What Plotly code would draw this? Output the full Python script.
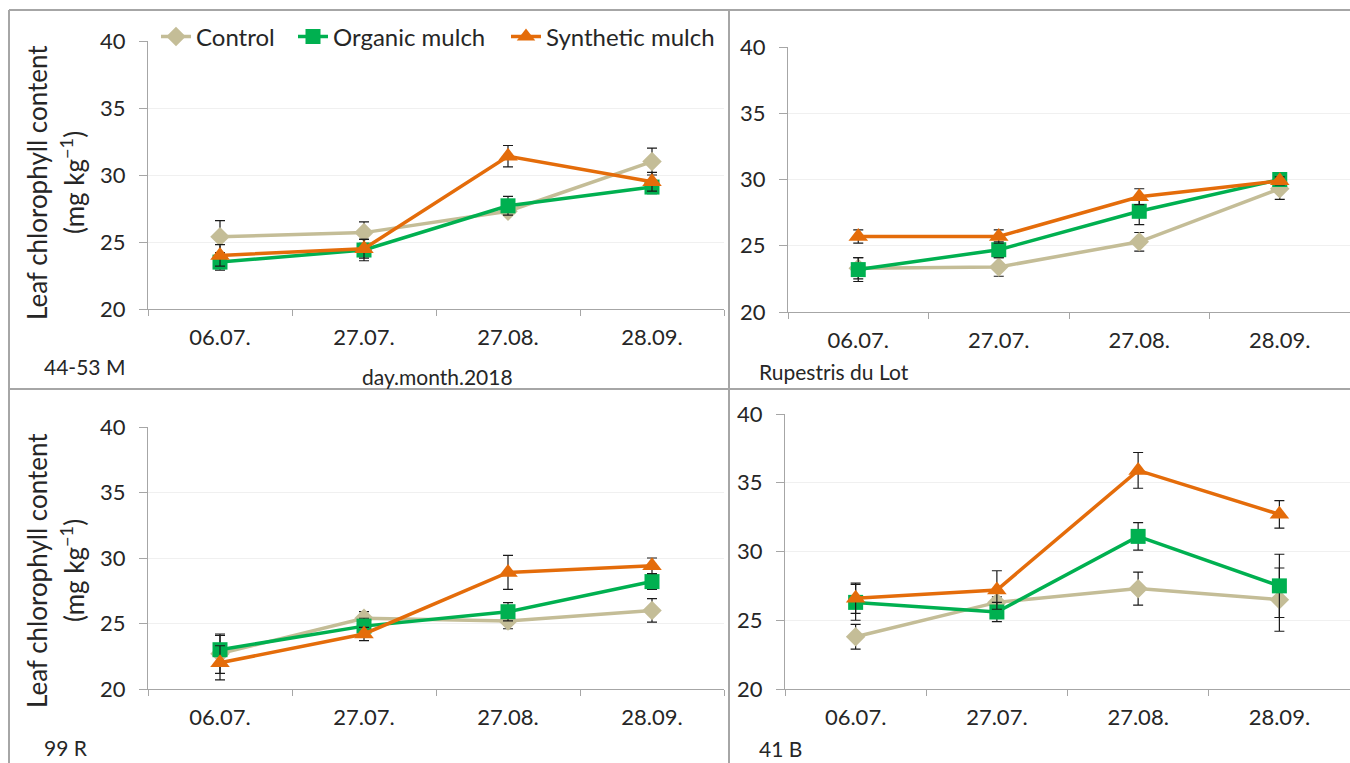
import plotly.graph_objects as go

W, H = 1350, 763

dates = ["06.07.", "27.07.", "27.08.", "28.09."]
series_names = ["Control", "Organic mulch", "Synthetic mulch"]
panel_labels = ["44-53 M", "Rupestris du Lot", "99 R", "41 B"]

# 44-53 M
m4453_control = [25.4, 25.7, 27.3, 31.0]
m4453_control_err = [1.2, 0.8, 0.3, 1.0]
m4453_organic = [23.5, 24.4, 27.7, 29.1]
m4453_organic_err = [0.6, 0.8, 0.7, 0.5]
m4453_synthetic = [24.0, 24.5, 31.4, 29.5]
m4453_synthetic_err = [0.8, 0.7, 0.8, 0.7]

# Rupestris du Lot
rup_control = [23.3, 23.4, 25.3, 29.3]
rup_control_err = [0.8, 0.7, 0.7, 0.8]
rup_organic = [23.2, 24.7, 27.6, 30.0]
rup_organic_err = [0.9, 0.6, 1.0, 0.3]
rup_synthetic = [25.7, 25.7, 28.7, 29.9]
rup_synthetic_err = [0.5, 0.5, 0.6, 0.3]

# 99 R
r99_control = [22.7, 25.4, 25.2, 26.0]
r99_control_err = [1.5, 0.5, 0.6, 0.9]
r99_organic = [23.0, 24.8, 25.9, 28.2]
r99_organic_err = [1.1, 0.6, 0.7, 0.6]
r99_synthetic = [22.0, 24.2, 28.9, 29.4]
r99_synthetic_err = [1.3, 0.5, 1.3, 0.6]

# 41 B
b41_control = [23.8, 26.3, 27.3, 26.5]
b41_control_err = [0.9, 0.4, 1.2, 2.3]
b41_organic = [26.3, 25.6, 31.1, 27.5]
b41_organic_err = [1.3, 0.7, 1.0, 2.3]
b41_synthetic = [26.6, 27.2, 35.9, 32.7]
b41_synthetic_err = [1.1, 1.4, 1.3, 1.0]

y_ticks = [20, 25, 30, 35, 40]

panels = [
    [(m4453_control, m4453_control_err), (m4453_organic, m4453_organic_err), (m4453_synthetic, m4453_synthetic_err)],
    [(rup_control, rup_control_err), (rup_organic, rup_organic_err), (rup_synthetic, rup_synthetic_err)],
    [(r99_control, r99_control_err), (r99_organic, r99_organic_err), (r99_synthetic, r99_synthetic_err)],
    [(b41_control, b41_control_err), (b41_organic, b41_organic_err), (b41_synthetic, b41_synthetic_err)],
]

colors = ["#C4BD97", "#00B050", "#E46C0A"]
symbols = ["diamond", "square", "triangle-up"]
msizes = [15, 15, 17]
legend_ids = ["legend", "legend2", "legend3"]
legend_x = [156, 293, 506]   # pixel left of each legend entry
FONT = "Lato"
TXT = "#262626"

# plot areas in pixels: (x0, x1, ytop, ybottom)
areas = [(148, 724, 41, 309), (788, 1350, 47, 312), (148, 724, 427, 689), (785, 1350, 414, 689)]

fig = go.Figure()
for p, data in enumerate(panels):
    ax = "" if p == 0 else str(p + 1)
    for s, (vals, errs) in enumerate(data):
        fig.add_trace(go.Scatter(
            x=dates, y=vals, name=series_names[s],
            mode="lines+markers",
            line=dict(color=colors[s], width=3.5),
            marker=dict(symbol=symbols[s], size=msizes[s], color=colors[s]),
            error_y=dict(type="data", array=errs, visible=True, color="#1a1a1a", thickness=1.2, width=5),
            xaxis="x" + ax, yaxis="y" + ax,
            showlegend=(p == 0), legend=legend_ids[s],
        ))
    x0, x1, yt, yb = areas[p]
    xa = dict(domain=[x0 / W, min(x1 / W, 1)], type="category", range=[-0.5, 3.5],
              showline=True, linecolor="#A6A6A6", linewidth=1, tickson="boundaries",
              ticks="outside", ticklen=6, tickcolor="#A6A6A6", showgrid=False, automargin=False,
              ticklabelstandoff=9,
              tickfont=dict(family=FONT, size=22, color=TXT), anchor="y" + ax, zeroline=False)
    ya = dict(domain=[1 - yb / H, 1 - yt / H], range=[20, 40], tickvals=y_ticks,
              showline=True, linecolor="#A6A6A6", linewidth=1, ticks="outside", ticklen=8,
              tickcolor="#A6A6A6", showgrid=True, gridcolor="#F0F0F0", gridwidth=1, automargin=False,
              ticklabelstandoff=9,
              tickfont=dict(family=FONT, size=22, color=TXT), anchor="x" + ax, zeroline=False)
    fig.update_layout(**{"xaxis" + ax: xa, "yaxis" + ax: ya})

annotations = []
# y-axis titles (left panels)
for cy in [183, 571]:
    annotations.append(dict(x=37 / W, y=1 - cy / H, xref="paper", yref="paper", text="Leaf chlorophyll content",
                            textangle=-90, showarrow=False, font=dict(family=FONT, size=26, color=TXT),
                            xanchor="center", yanchor="middle"))
    annotations.append(dict(x=72 / W, y=1 - cy / H, xref="paper", yref="paper", text="(mg kg<sup>−1</sup>)",
                            textangle=-90, showarrow=False, font=dict(family=FONT, size=26, color=TXT),
                            xanchor="center", yanchor="middle"))
label_pos = [(42, 366), (757, 371), (42, 747), (757, 748)]
for lab, (lx, ly) in zip(panel_labels, label_pos):
    annotations.append(dict(x=lx / W, y=1 - ly / H, xref="paper", yref="paper", text=lab, showarrow=False,
                            font=dict(family=FONT, size=21, color=TXT), xanchor="left", yanchor="middle"))
annotations.append(dict(x=437 / W, y=1 - 376 / H, xref="paper", yref="paper", text="day.month.2018",
                        showarrow=False, font=dict(family=FONT, size=21, color=TXT),
                        xanchor="center", yanchor="middle"))

bc = "#A6A6A6"
shapes = [
    dict(type="line", xref="paper", yref="paper", x0=9 / W, x1=1, y0=1 - 10 / H, y1=1 - 10 / H, line=dict(color=bc, width=2)),
    dict(type="line", xref="paper", yref="paper", x0=9 / W, x1=9 / W, y0=1 - 10 / H, y1=0, line=dict(color=bc, width=2)),
    dict(type="line", xref="paper", yref="paper", x0=729 / W, x1=729 / W, y0=1 - 10 / H, y1=0, line=dict(color=bc, width=2)),
    dict(type="line", xref="paper", yref="paper", x0=9 / W, x1=1, y0=1 - 389 / H, y1=1 - 389 / H, line=dict(color=bc, width=2)),
]

layout_legends = {}
for lid, lx in zip(legend_ids, legend_x):
    layout_legends[lid] = dict(orientation="h", x=lx / W, y=1 - 37 / H, xanchor="left", yanchor="middle",
                               font=dict(family=FONT, size=24, color=TXT), bgcolor="rgba(0,0,0,0)",
                               itemwidth=30, tracegroupgap=0)

fig.update_layout(
    width=W, height=H, margin=dict(l=0, r=0, t=0, b=0, autoexpand=False),
    paper_bgcolor="white", plot_bgcolor="white",
    annotations=annotations, shapes=shapes,
    **layout_legends,
)

fig.write_html("out.html", config={"displayModeBar": False},
               post_script="document.body.style.margin='0';document.body.style.overflow='hidden';")
